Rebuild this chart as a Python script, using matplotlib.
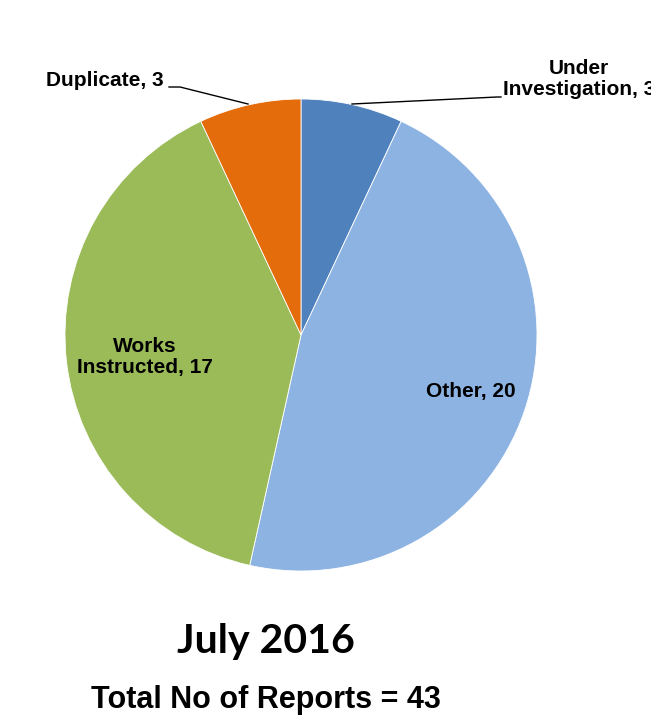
import matplotlib
matplotlib.use("Agg")
import matplotlib.pyplot as plt

labels = ["Under\nInvestigation", "Other", "Works\nInstructed", "Duplicate"]
values = [3, 20, 17, 3]
colors = ["#4F81BD", "#8DB3E2", "#9BBB59", "#E46C0A"]
title = "July 2016"
subtitle = "Total No of Reports = %d" % sum(values)

W, H = 651, 728
fig = plt.figure(figsize=(W / 100, H / 100), dpi=100)
ax = fig.add_axes([0, 0, 1, 1])

cx, cy, r = 301, H - 335, 236
wedges, _ = ax.pie(values, colors=colors, startangle=90, counterclock=False,
                   center=(cx, cy), radius=r,
                   wedgeprops=dict(edgecolor="white", linewidth=0.6))
ax.set_xlim(0, W)
ax.set_ylim(0, H)
ax.set_aspect("equal")
ax.axis("off")

lab = [f"{l}, {v}" for l, v in zip(labels, values)]
font = dict(family="Liberation Sans", fontweight="bold", fontsize=15, color="black")

# Under Investigation (outside, top right)
ax.text(503, H - 79, lab[0], ha="left", va="center", multialignment="center",
        linespacing=1.1, clip_on=False, **font)
ax.plot([352, 497, 501], [H - 104, H - 97, H - 97], color="black", lw=1)
# Other (inside)
ax.text(471, H - 391, lab[1], ha="center", va="center", **font)
# Works Instructed (inside)
ax.text(145, H - 357, lab[2], ha="center", va="center", multialignment="center",
        linespacing=1.1, **font)
# Duplicate (outside, top left)
ax.text(164, H - 80, lab[3], ha="right", va="center", **font)
ax.plot([169, 180, 248], [H - 87, H - 87, H - 104], color="black", lw=1)

ax.text(266, H - 642, title, ha="center", va="center", fontsize=29.5,
        family="Lato", fontweight="bold", color="black")
ax.text(266, H - 700, subtitle, ha="center", va="center", fontsize=22,
        family="Liberation Sans", fontweight="bold", color="black")

fig.savefig("out.png", dpi=100, facecolor="white")
